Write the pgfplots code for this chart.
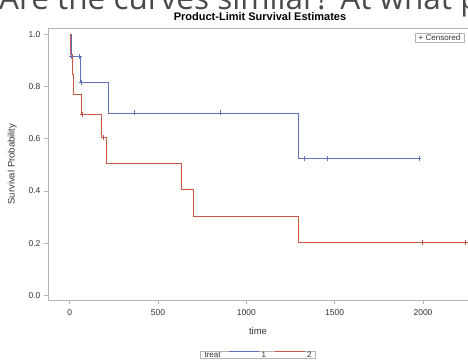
\documentclass[border=0pt]{standalone}
\usepackage{pgfplots}
\pgfplotsset{compat=1.18}
\usepackage{fontspec}
\setmainfont{Liberation Sans}
\newfontfamily\bigfont{Open Sans}
\definecolor{kmblue}{HTML}{6272B8}
\definecolor{kmred}{HTML}{CC5646}
\definecolor{frame}{HTML}{B4B4B4}
\definecolor{txt}{HTML}{333333}
\definecolor{bigtxt}{HTML}{4A4A4A}
\begin{document}
\begin{tikzpicture}
\node[anchor=base west, inner sep=0pt, font=\bigfont\fontsize{31.5}{36}\selectfont, text=bigtxt] at (-1pt,349.5pt) {Are the curves similar? At what point?};
\begin{axis}[
  at={(48pt,59pt)}, anchor=south west,
  scale only axis, width=428pt, height=272pt,
  xmin=-123, xmax=2300, ymin=-0.018, ymax=1.024,
  axis line style={frame, line width=0.7pt},
  xtick={0,500,1000,1500,2000},
  ytick={0,0.2,0.4,0.6,0.8,1.0},
  /pgf/number format/assume math mode=true,
  xticklabel style={/pgf/number format/.cd,1000 sep={}, /tikz/.cd, yshift=-2.5pt},
  yticklabel style={/pgf/number format/.cd,fixed,fixed zerofill,precision=1},
  tick align=outside, xtick pos=bottom, ytick pos=left,
  major tick length=4pt,
  tick style={frame, line width=0.6pt},
  ticklabel style={font=\fontsize{8.5}{10}\selectfont, text=txt},
  xlabel={time}, ylabel={Survival Probability},
  label style={font=\fontsize{9.5}{11}\selectfont, text=txt},
  xlabel style={at={(axis description cs:0.4907,-0.114)}, anchor=center},
  ylabel style={at={(axis description cs:-0.084,0.5)}, anchor=center},
  legend columns=-1,
  legend style={at={(axis description cs:0.4907,-0.1857)}, anchor=north,
    draw=frame, font=\fontsize{8}{8}\selectfont, text=txt,
    inner xsep=2pt, inner ysep=0pt,
    nodes={inner ysep=0.6pt, text height=5.8pt, text depth=0pt},
    /tikz/every even column/.append style={column sep=6pt}},
  legend image code/.code={\draw[#1, line width=1pt] (0pt,2.5pt) -- (30pt,2.5pt);},
]
\addlegendimage{empty legend}
\addlegendentry{treat}
\addplot[const plot, kmblue, line width=0.9pt] coordinates {
  (0,1) (8,0.9167) (62,0.8148) (219,0.6984) (1294,0.5238) (1980,0.5238)};
\addlegendentry{1}
\addplot[const plot, kmred, line width=0.9pt] coordinates {
  (0,1) (2,0.9231) (17,0.8462) (20,0.7692) (64,0.6923) (179,0.6058)
  (209,0.5048) (632,0.4038) (700,0.3029) (1294,0.2019) (2300,0.2019)};
\addlegendentry{2}
\addplot[only marks, mark=+, mark size=2.5pt, kmblue, line width=0.7pt, forget plot] coordinates {
  (10,0.9167) (53,0.9167) (68,0.8148) (364,0.6984) (852,0.6984)
  (1330,0.5238) (1458,0.5238) (1977,0.5238)};
\addplot[only marks, mark=+, mark size=2.5pt, kmred, line width=0.7pt, forget plot] coordinates {
  (73,0.6923) (190,0.6058) (1994,0.2019) (2241,0.2019)};
\end{axis}
\node[font=\bfseries\fontsize{11}{13}\selectfont] at (260pt,342.5pt) {Product-Limit Survival Estimates};
\node[draw=frame, fill=white, inner xsep=4pt, inner ysep=1.5pt, font=\fontsize{8}{9}\selectfont, text=txt] at (439.5pt,321pt) {+ Censored};
\pgfresetboundingbox
\useasboundingbox (0,0) rectangle (468pt,359pt);
\end{tikzpicture}
\end{document}
